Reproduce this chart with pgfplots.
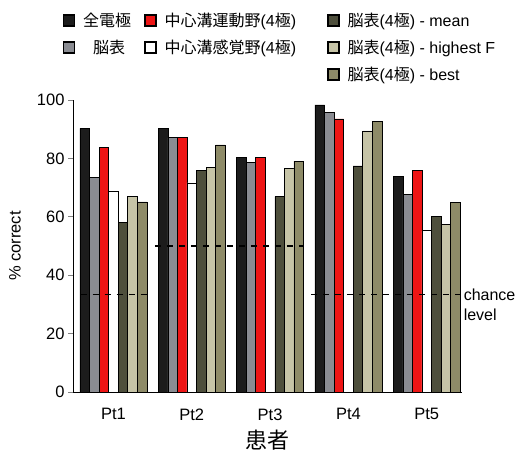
\documentclass[border=0pt]{standalone}
\usepackage{pgfplots}
\usepackage{pgfplotstable}
\pgfplotsset{compat=1.18}
\usepackage{fontspec}
\setmainfont{Liberation Sans}
\newfontfamily\cjk{Noto Sans CJK JP}
\definecolor{cAll}{HTML}{1C1C1C}
\definecolor{cSurf}{HTML}{8A8C92}
\definecolor{cMotor}{HTML}{EE1515}
\definecolor{cSens}{HTML}{FFFFFF}
\definecolor{cMean}{HTML}{4E4F3C}
\definecolor{cHigh}{HTML}{C6C4A7}
\definecolor{cBest}{HTML}{8E8B68}

\pgfplotstableread{
x all surf motor sens mean high best
1 90.3 73.5 83.8 68.6 58.0 66.9 65.1
2 90.3 87.1 87.1 71.6 75.8 76.9 84.6
3 80.3 78.5 80.3 nan 66.9 76.6 79.1
4 98.3 95.8 93.5 nan 77.4 89.4 92.6
5 73.7 67.7 76.0 55.2 60.0 57.5 64.8
}\datatable

\pgfplotsset{
  lsq/.style={legend image code/.code={\draw[fill=#1, draw=black, line width=1.5pt] (0pt,-5.5pt) rectangle (11pt,5.5pt);}},
  barst/.style={fill=#1, draw=black, line width=0.7pt},
}

\begin{document}
\begin{tikzpicture}
\begin{axis}[
  at={(73pt,64pt)}, anchor=south west,
  scale only axis, width=389pt, height=292pt,
  xmin=0.484, xmax=5.45, ymin=0, ymax=100,
  axis lines*=left,
  axis line style={line width=1pt},
  ybar, bar width=0.122,
  xtick={1,2,3,4,5},
  xticklabels={Pt1,Pt2,Pt3,Pt4,Pt5},
  xtick style={draw=none},
  xticklabel style={yshift=-8pt},
  ytick={0,20,40,60,80,100},
  tick align=outside,
  major tick length=5pt,
  ytick style={line width=1pt},
  tick label style={font=\fontsize{16.5}{18}\selectfont},
  /pgf/number format/assume math mode=true,
  ylabel={\% correct},
  ylabel style={at={(axis description cs:-0.149,0.5)}, anchor=center, font=\fontsize{16.5}{18}\selectfont},
  xlabel={患者},
  xlabel style={at={(axis description cs:0.5,0)}, anchor=center, yshift=-48pt, font=\cjk\fontsize{22}{24}\selectfont},
  clip=false,
  legend columns=3,
  legend cell align=left,
  legend style={draw=none, fill=none, at={(-0.035,1.312)}, anchor=north west,
    font=\fontsize{16}{18}\selectfont, row sep=8pt,
    /tikz/every odd column/.append style={column sep=6pt},
    /tikz/every even column/.append style={column sep=11pt}},
]
\addplot[barst=cAll, bar shift=-0.366, forget plot] table[x=x,y=all] {\datatable};
\addplot[barst=cSurf, bar shift=-0.244, forget plot] table[x=x,y=surf] {\datatable};
\addplot[barst=cMotor, bar shift=-0.122, forget plot] table[x=x,y=motor] {\datatable};
\addplot[barst=cSens, bar shift=0, forget plot] table[x=x,y=sens] {\datatable};
\addplot[barst=cMean, bar shift=0.122, forget plot] table[x=x,y=mean] {\datatable};
\addplot[barst=cHigh, bar shift=0.244, forget plot] table[x=x,y=high] {\datatable};
\addplot[barst=cBest, bar shift=0.366, forget plot] table[x=x,y=best] {\datatable};

\addplot[sharp plot, black, line width=1.1pt, dash pattern=on 6pt off 6pt, forget plot] coordinates {(0.582,33.3) (1.474,33.3)};
\addplot[sharp plot, black, line width=1.1pt, dash pattern=on 6pt off 6pt, forget plot] coordinates {(1.529,50) (3.439,50)};
\addplot[sharp plot, black, line width=1.1pt, dash pattern=on 6pt off 6pt, forget plot] coordinates {(3.525,33.3) (5.448,33.3)};

\node[anchor=west, font=\fontsize{16}{18}\selectfont, inner sep=0pt] at (axis cs:5.47,33.3) {chance};
\node[anchor=west, font=\fontsize{16}{18}\selectfont, inner sep=0pt] at (axis cs:5.47,26.5) {level};

\addlegendimage{lsq=cAll}\addlegendentry{{\cjk 全電極}}
\addlegendimage{lsq=cMotor}\addlegendentry{{\cjk 中心溝運動野}(4{\cjk 極})\rule{18pt}{0pt}}
\addlegendimage{lsq=cMean}\addlegendentry{{\cjk 脳表}(4{\cjk 極}) - mean}
\addlegendimage{lsq=cSurf}\addlegendentry{\rule{10pt}{0pt}{\cjk 脳表}}
\addlegendimage{lsq=cSens}\addlegendentry{{\cjk 中心溝感覚野}(4{\cjk 極})\rule{18pt}{0pt}}
\addlegendimage{lsq=cHigh}\addlegendentry{{\cjk 脳表}(4{\cjk 極}) - highest F}
\addlegendimage{empty legend}\addlegendentry{}
\addlegendimage{empty legend}\addlegendentry{}
\addlegendimage{lsq=cBest}\addlegendentry{{\cjk 脳表}(4{\cjk 極}) - best}
\end{axis}
\pgfresetboundingbox
\path[use as bounding box] (0,0) rectangle (529pt,456pt);
\end{tikzpicture}
\end{document}
